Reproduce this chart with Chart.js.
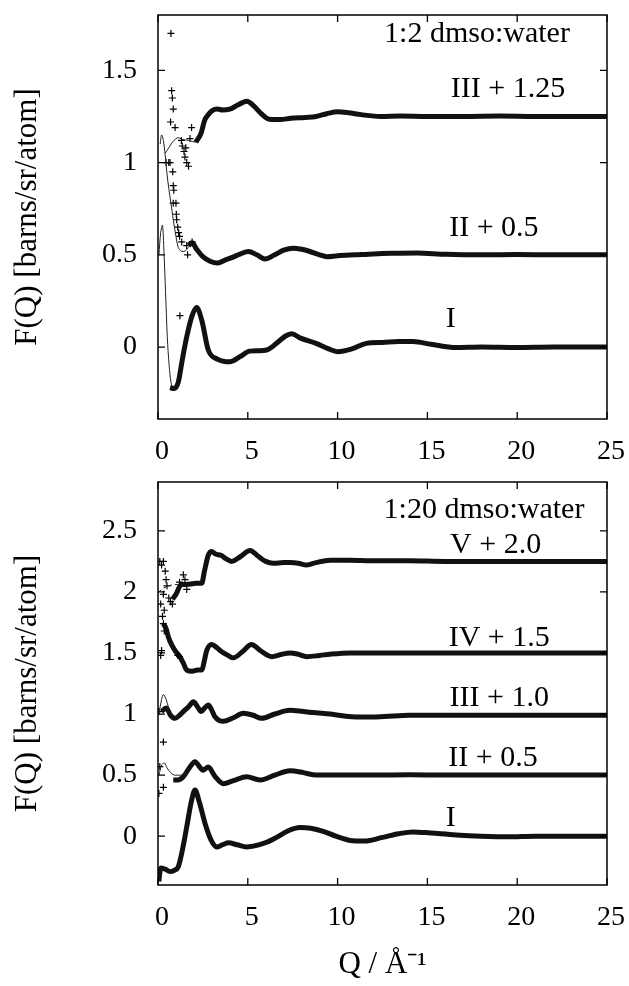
<!DOCTYPE html>
<html>
<head>
<meta charset="utf-8">
<script src="https://cdn.jsdelivr.net/npm/chart.js@4.4.0/dist/chart.umd.min.js"></script>
<style>
  body { margin: 0; background: #fff; }
  #wrap { position: relative; width: 629px; height: 986px; }
  canvas { position: absolute; left: 0; }
</style>
</head>
<body>
<div id="wrap">
  <canvas id="topChart" width="629" height="470" style="top:0"></canvas>
  <canvas id="bottomChart" width="629" height="516" style="top:470px"></canvas>
</div>
<script>
// ---- tick labels
const xTicks = [0, 5, 10, 15, 20, 25];
const yTicksTop = [0, 0.5, 1, 1.5];
const yTicksBottom = [0, 0.5, 1, 1.5, 2, 2.5];

// ---- 1:2 dmso:water (top panel)
const topI_q = [0.67, 0.9, 1.13, 1.35, 1.6, 1.9, 2.15, 2.45, 2.8, 3.3, 4.0, 4.6, 5.1, 5.6, 6.05, 6.6, 7.1, 7.45, 7.9, 8.8, 9.5, 10.0, 10.8, 11.6, 12.5, 13.4, 14.2, 15.2, 16.6, 18, 20, 22, 24, 25];
const topI_f = [-0.22, -0.225, -0.19, -0.07, 0.056, 0.17, 0.215, 0.14, -0.016, -0.065, -0.08, -0.05, -0.022, -0.02, -0.016, 0.02, 0.06, 0.072, 0.05, 0.02, -0.01, -0.025, -0.01, 0.02, 0.025, 0.03, 0.03, 0.015, -0.003, 0, -0.003, 0, 0, 0];
const topI_thin_q = [0.05, 0.15, 0.25, 0.33, 0.42, 0.52, 0.62, 0.72, 0.8];
const topI_thin_f = [0.5, 0.62, 0.66, 0.52, 0.3, 0.05, -0.1, -0.19, -0.22];

const topII_q = [1.7, 1.9, 2.15, 2.5, 2.9, 3.3, 3.7, 4.1, 4.6, 5.03, 5.5, 5.96, 6.5, 7.0, 7.53, 8.0, 8.46, 9.0, 9.4, 10.0, 11, 12, 13, 14.4, 16, 18, 20, 22, 25];
const topII_f = [0.55, 0.565, 0.53, 0.49, 0.465, 0.455, 0.47, 0.485, 0.505, 0.518, 0.5, 0.477, 0.5, 0.525, 0.536, 0.53, 0.518, 0.5, 0.49, 0.495, 0.5, 0.505, 0.508, 0.51, 0.503, 0.5, 0.502, 0.5, 0.5];
const topII_thin_q = [0.12, 0.2, 0.3, 0.4, 0.5, 0.6, 0.72, 0.85, 1.0, 1.13, 1.3, 1.5, 1.7];
const topII_thin_f = [1.1, 1.15, 1.12, 1.04, 0.94, 0.86, 0.78, 0.69, 0.6, 0.54, 0.52, 0.52, 0.54];

const topIII_q = [2.1, 2.4, 2.6, 2.8, 3.0, 3.3, 3.6, 4.0, 4.4, 4.7, 4.95, 5.3, 5.7, 6.2, 6.8, 7.4, 8.2, 8.8, 9.4, 10.0, 10.6, 11.3, 12.4, 13.5, 15, 17, 19, 21, 23, 25];
const topIII_f = [1.11, 1.16, 1.23, 1.26, 1.28, 1.29, 1.285, 1.29, 1.31, 1.325, 1.333, 1.31, 1.27, 1.235, 1.233, 1.24, 1.245, 1.25, 1.265, 1.275, 1.27, 1.26, 1.25, 1.252, 1.25, 1.25, 1.252, 1.25, 1.25, 1.25];
const topIII_thin_q = [0.4, 0.6, 0.8, 1.0, 1.13, 1.4, 1.7, 2.1];
const topIII_thin_f = [1.05, 1.08, 1.11, 1.13, 1.135, 1.125, 1.12, 1.11];

const topCross_q = [0.72, 0.76, 0.8, 0.85, 0.7, 0.95, 0.67, 0.82, 0.85, 0.88, 0.85, 1.0, 1.02, 1.04, 1.1, 1.15, 1.2, 1.32, 1.35, 1.45, 1.5, 1.6, 1.7, 1.6, 1.65, 1.78, 1.87, 1.9, 1.22, 1.3, 1.55, 0.45, 0.6];
const topCross_f = [1.70, 1.39, 1.35, 1.29, 1.22, 1.19, 1.0, 0.95, 0.875, 0.85, 0.78, 0.78, 0.72, 0.69, 0.65, 0.62, 0.6, 0.57, 1.09, 1.06, 1.03, 1.0, 0.98, 0.55, 0.5, 1.13, 1.19, 0.57, 0.17, 1.12, 1.08, 1.0, 1.0];

// ---- 1:20 dmso:water (bottom panel)
const botI_q = [0.05, 0.15, 0.4, 0.67, 0.9, 1.13, 1.35, 1.6, 1.85, 2.06, 2.3, 2.62, 2.95, 3.27, 3.6, 3.92, 4.4, 4.94, 5.5, 6.05, 6.6, 7.2, 7.9, 8.5, 9.2, 9.9, 10.7, 11.5, 12.5, 13.4, 14.2, 15.2, 16.6, 18, 19.5, 21, 23, 25];
const botI_f = [-0.37, -0.26, -0.27, -0.29, -0.28, -0.25, -0.12, 0.076, 0.28, 0.377, 0.28, 0.104, -0.03, -0.088, -0.07, -0.055, -0.07, -0.088, -0.075, -0.05, -0.01, 0.04, 0.07, 0.065, 0.04, 0.0, -0.035, -0.04, -0.01, 0.02, 0.035, 0.025, 0.01, 0.0, -0.005, 0, 0, 0];

const botII_q = [0.85, 1.1, 1.41, 1.75, 2.06, 2.3, 2.5, 2.8, 3.17, 3.64, 4.2, 4.94, 5.68, 6.5, 7.35, 8.1, 8.8, 9.6, 10.7, 12, 14, 16, 18, 20, 22, 25];
const botII_f = [0.46, 0.46, 0.486, 0.56, 0.61, 0.57, 0.54, 0.566, 0.49, 0.43, 0.455, 0.486, 0.46, 0.5, 0.535, 0.52, 0.5, 0.5, 0.5, 0.5, 0.502, 0.5, 0.5, 0.5, 0.5, 0.5];
const botII_thin_q = [0.05, 0.2, 0.35, 0.5, 0.7, 0.9, 1.1, 1.3, 1.5];
const botII_thin_f = [0.5, 0.58, 0.6, 0.56, 0.52, 0.5, 0.5, 0.5, 0.52];

const botIII_q = [0.2, 0.45, 0.7, 0.95, 1.2, 1.41, 1.7, 1.97, 2.2, 2.4, 2.6, 2.8, 3.0, 3.17, 3.64, 4.2, 4.75, 5.3, 5.77, 6.5, 7.35, 8.1, 8.8, 9.6, 10.6, 11.5, 12.6, 14, 16, 18, 20, 22, 25];
const botIII_f = [1.02, 1.05, 0.99, 0.965, 0.99, 1.02, 1.06, 1.1, 1.06, 1.02, 1.05, 1.074, 1.03, 0.978, 0.94, 0.97, 1.006, 0.99, 0.965, 1.0, 1.03, 1.02, 1.01, 1.0, 0.98, 0.975, 0.98, 0.99, 0.99, 0.99, 0.99, 0.99, 0.99];
const botIII_thin_q = [0.05, 0.2, 0.3, 0.45, 0.6, 0.8, 1.0, 1.2];
const botIII_thin_f = [1.0, 1.12, 1.16, 1.12, 1.05, 0.99, 0.98, 1.0];

const botIV_q = [0.3, 0.45, 0.58, 0.75, 0.95, 1.22, 1.4, 1.6, 1.9, 2.2, 2.43, 2.6, 2.71, 2.99, 3.3, 3.55, 3.9, 4.19, 4.7, 5.2, 5.7, 6.33, 6.9, 7.35, 7.8, 8.28, 9.0, 9.58, 10.7, 12, 14, 16, 18, 20, 22, 25];
const botIV_f = [1.74, 1.7, 1.63, 1.57, 1.52, 1.47, 1.42, 1.36, 1.35, 1.36, 1.36, 1.45, 1.52, 1.57, 1.54, 1.51, 1.48, 1.46, 1.51, 1.57, 1.52, 1.47, 1.49, 1.5, 1.49, 1.47, 1.48, 1.49, 1.5, 1.5, 1.5, 1.5, 1.5, 1.5, 1.5, 1.5];

const botV_q = [0.8, 1.0, 1.3, 1.41, 1.8, 2.1, 2.43, 2.6, 2.8, 2.99, 3.2, 3.5, 3.8, 4.1, 4.6, 5.12, 5.6, 6.0, 6.42, 7.0, 7.35, 7.8, 8.28, 8.8, 9.58, 10.7, 12, 14, 16, 18, 20, 22, 25];
const botV_f = [1.94, 1.98, 2.06, 2.06, 2.065, 2.07, 2.07, 2.18, 2.3, 2.33, 2.31, 2.3, 2.27, 2.25, 2.29, 2.34, 2.29, 2.25, 2.235, 2.24, 2.24, 2.235, 2.22, 2.24, 2.26, 2.26, 2.255, 2.255, 2.25, 2.25, 2.25, 2.25, 2.25];
const botV_thin_q = [0.05, 0.3, 0.6, 0.9, 1.2, 1.5];
const botV_thin_f = [2.0, 2.03, 2.05, 2.06, 2.06, 2.07];

const botCross_q = [0.1, 0.2, 0.3, 0.4, 0.5, 0.45, 0.15, 0.3, 0.6, 0.7, 0.8, 0.35, 0.25, 1.41, 1.5, 1.6, 1.2, 0.3, 0.35, 0.2, 0.15, 1.1, 1.2, 0.3, 0.1, 0.3, 0.05, 0.05];
const botCross_f = [2.25, 2.22, 2.25, 2.17, 2.05, 2.1, 1.9, 1.98, 1.95, 1.92, 1.9, 1.85, 1.8, 2.14, 2.1, 2.02, 2.08, 1.74, 1.68, 1.52, 1.48, 1.48, 1.47, 0.77, 0.57, 0.4, 0.35, 1.02];

// ---- text in the panels
const topLabels = ['1:2 dmso:water', 'III + 1.25', 'II + 0.5', 'I'];
const bottomLabels = ['1:20 dmso:water', 'V + 2.0', 'IV + 1.5', 'III + 1.0', 'II + 0.5', 'I'];

const SERIF = '"Liberation Serif", "Times New Roman", serif';

function pts(q, f) {
  return q.map((v, i) => ({ x: v, y: f[i] }));
}
function thick(q, f) {
  return { data: pts(q, f), borderColor: '#111', borderWidth: 5, pointRadius: 0,
           cubicInterpolationMode: 'monotone', fill: false };
}
function thin(q, f, dash) {
  return { data: pts(q, f), borderColor: '#222', borderWidth: 1, pointRadius: 0,
           tension: 0.3, borderDash: dash || [], fill: false };
}
function crosses(q, f) {
  return { data: pts(q, f), showLine: false, pointStyle: 'cross', pointRadius: 3.5,
           pointBorderWidth: 1.2, pointBorderColor: '#000', borderColor: '#000' };
}

// frame, inward ticks (gnuplot style) and in-plot text
const frameTicks = {
  id: 'frameTicks',
  afterDatasetsDraw(chart, args, opts) {
    const { ctx, chartArea: a } = chart;
    const x = chart.scales.x, y = chart.scales.y;
    ctx.save();
    ctx.strokeStyle = '#000';
    ctx.lineWidth = 1.5;
    ctx.strokeRect(a.left, a.top, a.right - a.left, a.bottom - a.top);
    ctx.lineWidth = 1.3;
    ctx.beginPath();
    x.ticks.forEach(t => {
      const px = x.getPixelForValue(t.value);
      ctx.moveTo(px, a.bottom); ctx.lineTo(px, a.bottom - 7);
      ctx.moveTo(px, a.top); ctx.lineTo(px, a.top + 7);
    });
    y.ticks.forEach(t => {
      const py = y.getPixelForValue(t.value);
      ctx.moveTo(a.left, py); ctx.lineTo(a.left + 7, py);
      ctx.moveTo(a.right, py); ctx.lineTo(a.right - 7, py);
    });
    ctx.stroke();
    ctx.fillStyle = '#000';
    ctx.font = '30px ' + SERIF;
    ctx.textAlign = 'center';
    ctx.textBaseline = 'middle';
    opts.labels.forEach(l => {
      ctx.fillText(l.text, x.getPixelForValue(l.q), y.getPixelForValue(l.f));
    });
    ctx.restore();
  }
};

function makeChart(id, datasets, yMin, yMax, yTicks, labels, pad, xHeight, showXTitle) {
  return new Chart(document.getElementById(id), {
    type: 'line',
    data: { datasets: datasets },
    options: {
      responsive: false,
      animation: false,
      devicePixelRatio: 1,
      events: [],
      layout: { padding: pad },
      plugins: { legend: { display: false }, tooltip: { enabled: false },
                 frameTicks: { labels: labels } },
      scales: {
        x: {
          type: 'linear', min: 0, max: 25,
          afterBuildTicks: s => { s.ticks = xTicks.map(v => ({ value: v })); },
          afterFit: s => { s.height = xHeight; s.paddingLeft = 0; s.paddingRight = 0; },
          grid: { display: false, drawTicks: false },
          border: { display: false },
          ticks: { color: '#000', padding: 16, labelOffset: 4, maxRotation: 0,
                   font: { family: SERIF, size: 28 }, callback: v => String(v) },
          title: { display: showXTitle, text: 'Q / Å⁻¹', color: '#000',
                   font: { family: SERIF, size: 31 }, padding: { top: 0, bottom: 3 } }
        },
        y: {
          type: 'linear', min: yMin, max: yMax,
          afterBuildTicks: s => { s.ticks = yTicks.map(v => ({ value: v })); },
          afterFit: s => { s.width = 158; s.paddingTop = 0; s.paddingBottom = 0; },
          grid: { display: false, drawTicks: false },
          border: { display: false },
          ticks: { color: '#000', padding: 21, font: { family: SERIF, size: 28 },
                   callback: v => String(v) },
          title: { display: true, text: 'F(Q) [barns/sr/atom]', color: '#000',
                   font: { family: SERIF, size: 31 }, padding: { top: 9, bottom: 0 } }
        }
      }
    },
    plugins: [frameTicks]
  });
}

makeChart('topChart', [
  thin(topI_thin_q, topI_thin_f),
  thin(topII_thin_q, topII_thin_f),
  thin(topIII_thin_q, topIII_thin_f),
  crosses(topCross_q, topCross_f),
  thick(topI_q, topI_f),
  thick(topII_q, topII_f),
  thick(topIII_q, topIII_f)
], -0.39, 1.80, yTicksTop, [
  { text: topLabels[0], q: 17.76, f: 1.696 },
  { text: topLabels[1], q: 19.49, f: 1.397 },
  { text: topLabels[2], q: 18.7, f: 0.647 },
  { text: topLabels[3], q: 16.3, f: 0.152 }
], { left: 0, top: 15, right: 22, bottom: 0 }, 51, false);

makeChart('bottomChart', [
  thin(botII_thin_q, botII_thin_f),
  thin(botIII_thin_q, botIII_thin_f),
  thin(botV_thin_q, botV_thin_f, [3, 3]),
  crosses(botCross_q, botCross_f),
  thick(botI_q, botI_f),
  thick(botII_q, botII_f),
  thick(botIII_q, botIII_f),
  thick(botIV_q, botIV_f),
  thick(botV_q, botV_f)
], -0.40, 2.90, yTicksBottom, [
  { text: bottomLabels[0], q: 18.15, f: 2.67 },
  { text: bottomLabels[1], q: 18.8, f: 2.385 },
  { text: bottomLabels[2], q: 19.0, f: 1.62 },
  { text: bottomLabels[3], q: 19.0, f: 1.13 },
  { text: bottomLabels[4], q: 18.65, f: 0.64 },
  { text: bottomLabels[5], q: 16.3, f: 0.15 }
], { left: 0, top: 12, right: 22, bottom: 0 }, 101, true);
</script>
</body>
</html>
